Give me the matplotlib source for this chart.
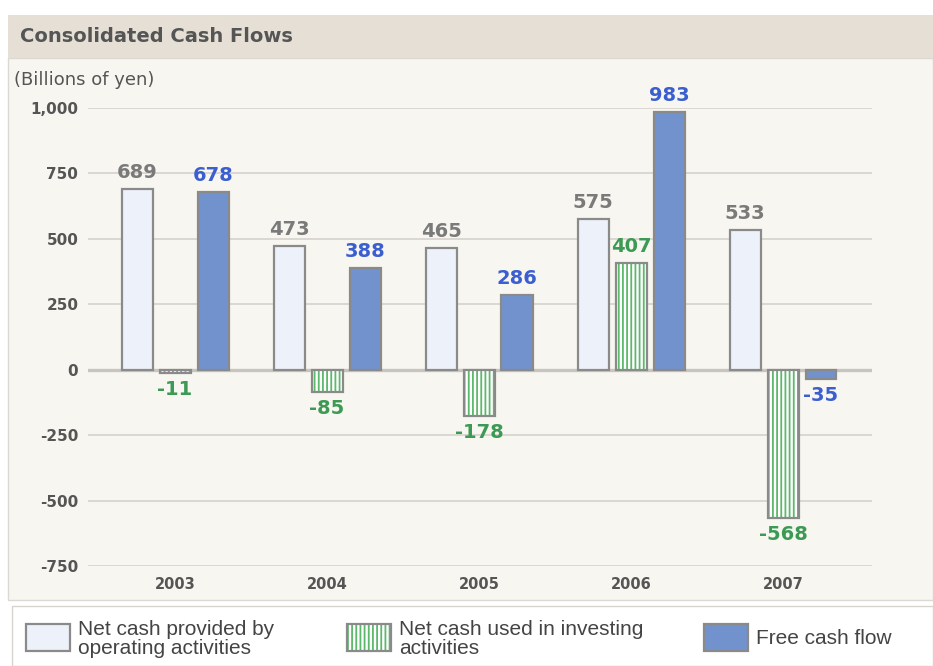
import numpy as np
import matplotlib.pyplot as plt
from matplotlib.patches import Rectangle

years = ["2003", "2004", "2005", "2006", "2007"]
operating = [689, 473, 465, 575, 533]
investing = [-11, -85, -178, 407, -568]
free_cf = [678, 388, 286, 983, -35]
yticks = [-750, -500, -250, 0, 250, 500, 750, 1000]
ytick_labels = ["-750", "-500", "-250", "0", "250", "500", "750", "1,000"]
legend_labels = ["Net cash provided by\noperating activities",
                 "Net cash used in investing\nactivities",
                 "Free cash flow"]

c_op = "#edf1f9"
c_inv = "#5cb86a"
c_fcf = "#7192cc"
c_edge = "#8a8a8a"
c_grid = "#d6d3cf"
lab_op = "#7a7a7a"
lab_inv = "#3c9a55"
lab_fcf = "#3b5fcf"

plt.rcParams['hatch.linewidth'] = 1.3

W, H = 933, 666
fig = plt.figure(figsize=(W / 100, H / 100), dpi=100)
fig.patch.set_facecolor("white")

def fx(px):
    return px / W

def fy(py):
    return 1 - py / H

# background panels
fig.patches.append(Rectangle((fx(8), fy(600)), fx(925), fy(58) - fy(600),
                             transform=fig.transFigure, facecolor="#f8f6f0",
                             edgecolor="#dcd8d2", lw=1, zorder=-5))
fig.patches.append(Rectangle((fx(8), fy(58)), fx(925), fy(15) - fy(58),
                             transform=fig.transFigure, facecolor="#e5dfd6",
                             edgecolor="none", zorder=-5))
fig.patches.append(Rectangle((fx(12), fy(666)), fx(921), fy(606) - fy(666),
                             transform=fig.transFigure, facecolor="white",
                             edgecolor="#d8d4ce", lw=1, zorder=-5))
fig.text(fx(20), fy(37), "Consolidated Cash Flows", fontsize=14,
         fontweight="bold", color="#555555", va="center", ha="left")
fig.text(fx(14), fy(80), "(Billions of yen)", fontsize=13,
         color="#555555", va="center", ha="left")

# axes: x group i centered at 175 + 152*i px
ax = fig.add_axes([fx(88), fy(566), fx(872) - fx(88), fy(108) - fy(566)])
ax.set_zorder(2)
ax.set_facecolor("none")
ax.set_xlim((88 - 175) / 152, (872 - 175) / 152)
ax.set_ylim(-750, 1000)
for s in ax.spines.values():
    s.set_visible(False)
ax.set_yticks(yticks)
ax.set_yticklabels(ytick_labels)
ax.tick_params(axis="y", length=0, pad=7, labelsize=11, labelcolor="#555555")
ax.tick_params(axis="x", length=0, pad=8, labelsize=10.5, labelcolor="#555555")
for v in yticks:
    ax.axhline(v, color="#c8c5c1" if v == 0 else c_grid,
               lw=2.4 if v == 0 else 1.2, zorder=1)

x = np.arange(len(years))
w = 31 / 152
off = 38 / 152
ax.set_xticks(x)
ax.set_xticklabels(years)
for lab in ax.get_xticklabels() + ax.get_yticklabels():
    lab.set_fontweight("bold")

ax.bar(x - off, operating, w, color=c_op, edgecolor=c_edge, lw=1.6, zorder=3)
ax.bar(x, investing, w, color="white", edgecolor=c_inv, hatch="||||",
       lw=0, zorder=3)
ax.bar(x, investing, w, color="none", edgecolor=c_edge, lw=1.6, zorder=4)
ax.bar(x + off, free_cf, w, color=c_fcf, edgecolor=c_edge, lw=1.6, zorder=3)

fs = 14
pad = 27
for i in x:
    ax.text(i - off, operating[i] + pad, str(operating[i]), ha="center",
            va="bottom", fontsize=fs, fontweight="bold", color=lab_op)
    v = investing[i]
    if v >= 0:
        ax.text(i, v + pad, str(v), ha="center", va="bottom", fontsize=fs,
                fontweight="bold", color=lab_inv)
    else:
        ax.text(i, v - pad, str(v), ha="center", va="top", fontsize=fs,
                fontweight="bold", color=lab_inv)
    v = free_cf[i]
    if v >= 0:
        ax.text(i + off, v + pad, str(v), ha="center", va="bottom", fontsize=fs,
                fontweight="bold", color=lab_fcf)
    else:
        ax.text(i + off, v - pad, str(v), ha="center", va="top", fontsize=fs,
                fontweight="bold", color=lab_fcf)

# legend drawn manually
sw_x = [26, 347, 704]
for k, px in enumerate(sw_x):
    if k == 0:
        fig.patches.append(Rectangle((fx(px), fy(651)), fx(44), fy(624) - fy(651),
                                     transform=fig.transFigure, facecolor=c_op,
                                     edgecolor=c_edge, lw=1.6))
    elif k == 1:
        fig.patches.append(Rectangle((fx(px), fy(651)), fx(44), fy(624) - fy(651),
                                     transform=fig.transFigure, facecolor="white",
                                     edgecolor=c_inv, hatch="||||", lw=0))
        fig.patches.append(Rectangle((fx(px), fy(651)), fx(44), fy(624) - fy(651),
                                     transform=fig.transFigure, facecolor="none",
                                     edgecolor=c_edge, lw=1.6))
    else:
        fig.patches.append(Rectangle((fx(px), fy(651)), fx(44), fy(624) - fy(651),
                                     transform=fig.transFigure, facecolor=c_fcf,
                                     edgecolor=c_edge, lw=1.6))
    fig.text(fx(px + 52), fy(639), legend_labels[k], fontsize=15,
             color="#444444", va="center", ha="left", linespacing=0.95,
             family="Liberation Sans")

fig.savefig("out.png", dpi=100)
